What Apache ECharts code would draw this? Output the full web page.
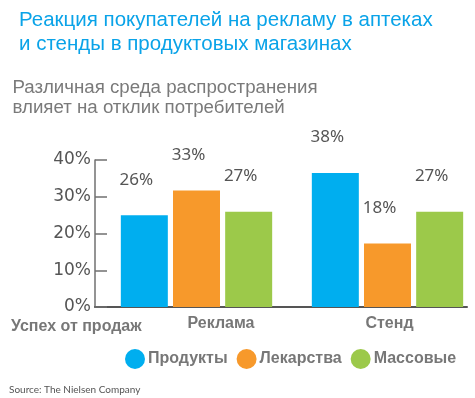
<!DOCTYPE html>
<html>
<head>
<meta charset="utf-8">
<script src="https://cdn.jsdelivr.net/npm/echarts@6/dist/echarts.min.js"></script>
<style>
html,body{margin:0;padding:0;background:#fff;}
#c{width:475px;height:398px;}
</style>
</head>
<body>
<div id="c"></div>
<script>
const titleText = 'Реакция покупателей на рекламу в аптеках\nи стенды в продуктовых магазинах';
const subtitleText = 'Различная среда распространения\nвлияет на отклик потребителей';
const axisName = 'Успех от продаж';
const sourceText = 'Source: The Nielsen Company';
const categories = ['Реклама', 'Стенд'];
const seriesNames = ['Продукты', 'Лекарства', 'Массовые'];
const produkty = [26, 38];
const lekarstva = [33, 18];
const massovye = [27, 27];
const yTicks = [0, 10, 20, 30, 40];

const colors = ['#00AEEF', '#F7992B', '#9CC94A'];
const values = [produkty, lekarstva, massovye];

const chart = echarts.init(document.getElementById('c'), null, {renderer: 'canvas'});

const labelShift = {'Реклама': 'r', 'Стенд': 's'};

const option = {
  animation: false,
  backgroundColor: '#fff',
  title: [
    {text: titleText, left: 19, top: 8, padding: 0,
     textStyle: {fontFamily: 'Liberation Sans, Arial', fontSize: 20.5, fontWeight: 'normal', color: '#0AA3E8', lineHeight: 24}},
    {text: subtitleText, left: 12.5, top: 77.5, padding: 0,
     textStyle: {fontFamily: 'Liberation Sans, Arial', fontSize: 18.7, fontWeight: 'normal', color: '#7A7A7A', lineHeight: 20}},
    {text: axisName, left: 11, top: 318, padding: 0,
     textStyle: {fontFamily: 'Liberation Sans, Arial', fontSize: 16, fontWeight: 'bold', color: '#777', lineHeight: 18}},
    {text: sourceText, left: 9, top: 383, padding: 0,
     textStyle: {fontFamily: 'Lato, Noto Sans', fontSize: 10, fontWeight: 'normal', color: '#555', lineHeight: 14}}
  ],
  legend: {
    data: seriesNames,
    icon: 'circle',
    itemWidth: 20, itemHeight: 20, itemGap: 9,
    left: 125, top: 349,
    padding: 0,
    textStyle: {fontFamily: 'Liberation Sans, Arial', fontSize: 16, fontWeight: 'bold', color: '#777', padding: [0, 0, 0, -2]}
  },
  grid: [
    {left: 95, right: 8, top: 160, bottom: 91, outerBoundsMode: 'none', containLabel: false},
    {left: 101, right: -8, top: 160, bottom: 91, outerBoundsMode: 'none', containLabel: false}
  ],
  xAxis: [
    {type: 'category', gridIndex: 0, data: categories,
     axisLine: {show: true, lineStyle: {color: '#555', width: 2}},
     axisTick: {show: false}, axisLabel: {show: false}, splitLine: {show: false}},
    {type: 'category', gridIndex: 1, data: categories,
     axisLine: {show: false}, axisTick: {show: false}, splitLine: {show: false},
     axisLabel: {show: true, margin: 9, interval: 0,
       formatter: function (v) { return '{' + labelShift[v] + '|' + v + '}'; },
       rich: {
         r: {padding: [0, 0, 0, 49], fontFamily: 'Liberation Sans, Arial', fontSize: 16, fontWeight: 'bold', color: '#777'},
         s: {padding: [0, 0, 0, 4], fontFamily: 'Liberation Sans, Arial', fontSize: 16, fontWeight: 'bold', color: '#777'}
       }}}
  ],
  yAxis: [
    {type: 'value', gridIndex: 0, min: yTicks[0], max: yTicks[yTicks.length - 1], interval: 10,
     axisLine: {show: true, lineStyle: {color: '#707070', width: 1.5}},
     axisTick: {show: true, inside: true, length: 12, lineStyle: {color: '#707070', width: 1.5}},
     splitLine: {show: false},
     axisLabel: {margin: 4, formatter: '{value}%', fontFamily: 'DejaVu Sans', fontSize: 17, color: '#555'}},
    {type: 'value', gridIndex: 1, min: 0, max: 40 / 0.96, show: false,
     splitLine: {show: false}}
  ],
  series: seriesNames.map(function (name, i) {
    return {
      name: name, type: 'bar', xAxisIndex: 1, yAxisIndex: 1,
      data: values[i],
      barWidth: 47, barGap: '11%',
      itemStyle: {color: colors[i]},
      label: {show: true, position: 'top', distance: 27, offset: [-8, 0],
        formatter: '{c}%', fontFamily: 'Noto Sans', fontSize: 17, color: '#555'}
    };
  })
};
chart.setOption(option);
</script>
</body>
</html>
